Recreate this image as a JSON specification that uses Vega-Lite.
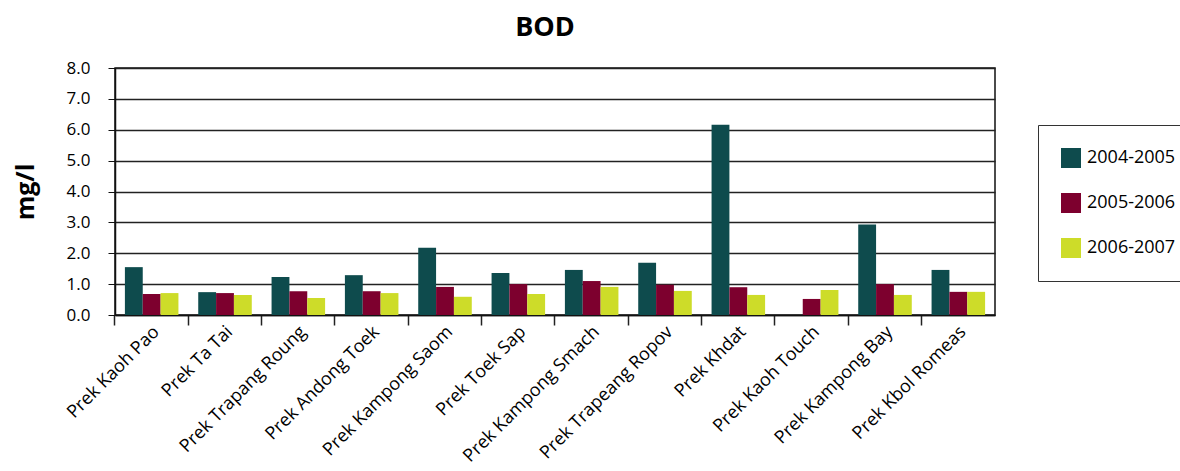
{
  "$schema": "https://vega.github.io/schema/vega-lite/v6.json",
  "autosize": {"type": "none"},
  "width": 880,
  "height": 247,
  "padding": {"left": 115, "top": 68, "right": 185, "bottom": 156},
  "background": "white",
  "config": {
    "font": "Open Sans",
    "view": {"stroke": "#111", "strokeWidth": 1.5}
  },
  "title": {"text": "BOD", "fontSize": 27, "fontWeight": "bold", "font": "Open Sans", "color": "#000", "offset": 17, "dx": -10},
  "data": {
    "values": [
      {"site": "Prek Kaoh Pao", "period": "2004-2005", "value": 1.55},
      {"site": "Prek Kaoh Pao", "period": "2005-2006", "value": 0.68},
      {"site": "Prek Kaoh Pao", "period": "2006-2007", "value": 0.71},
      {"site": "Prek Ta Tai", "period": "2004-2005", "value": 0.74},
      {"site": "Prek Ta Tai", "period": "2005-2006", "value": 0.71},
      {"site": "Prek Ta Tai", "period": "2006-2007", "value": 0.65},
      {"site": "Prek Trapang Roung", "period": "2004-2005", "value": 1.23},
      {"site": "Prek Trapang Roung", "period": "2005-2006", "value": 0.77},
      {"site": "Prek Trapang Roung", "period": "2006-2007", "value": 0.55},
      {"site": "Prek Andong Toek", "period": "2004-2005", "value": 1.29},
      {"site": "Prek Andong Toek", "period": "2005-2006", "value": 0.77},
      {"site": "Prek Andong Toek", "period": "2006-2007", "value": 0.71},
      {"site": "Prek Kampong Saom", "period": "2004-2005", "value": 2.18},
      {"site": "Prek Kampong Saom", "period": "2005-2006", "value": 0.91},
      {"site": "Prek Kampong Saom", "period": "2006-2007", "value": 0.59},
      {"site": "Prek Toek Sap", "period": "2004-2005", "value": 1.36},
      {"site": "Prek Toek Sap", "period": "2005-2006", "value": 1.0},
      {"site": "Prek Toek Sap", "period": "2006-2007", "value": 0.68},
      {"site": "Prek Kampong Smach", "period": "2004-2005", "value": 1.46},
      {"site": "Prek Kampong Smach", "period": "2005-2006", "value": 1.1},
      {"site": "Prek Kampong Smach", "period": "2006-2007", "value": 0.91},
      {"site": "Prek Trapeang Ropov", "period": "2004-2005", "value": 1.69},
      {"site": "Prek Trapeang Ropov", "period": "2005-2006", "value": 0.98},
      {"site": "Prek Trapeang Ropov", "period": "2006-2007", "value": 0.78},
      {"site": "Prek Khdat", "period": "2004-2005", "value": 6.16},
      {"site": "Prek Khdat", "period": "2005-2006", "value": 0.9},
      {"site": "Prek Khdat", "period": "2006-2007", "value": 0.65},
      {"site": "Prek Kaoh Touch", "period": "2005-2006", "value": 0.52},
      {"site": "Prek Kaoh Touch", "period": "2006-2007", "value": 0.81},
      {"site": "Prek Kampong Bay", "period": "2004-2005", "value": 2.93},
      {"site": "Prek Kampong Bay", "period": "2005-2006", "value": 1.0},
      {"site": "Prek Kampong Bay", "period": "2006-2007", "value": 0.65},
      {"site": "Prek Kbol Romeas", "period": "2004-2005", "value": 1.46},
      {"site": "Prek Kbol Romeas", "period": "2005-2006", "value": 0.75},
      {"site": "Prek Kbol Romeas", "period": "2006-2007", "value": 0.75}
    ]
  },
  "mark": {"type": "bar"},
  "encoding": {
    "x": {
      "field": "site",
      "type": "nominal",
      "sort": null,
      "scale": {"paddingInner": 0.27, "paddingOuter": 0.135},
      "axis": {
        "title": null,
        "bandPosition": -0.185,
        "labelOffset": 5,
        "labelAngle": -45,
        "labelAlign": "right",
        "labelBaseline": "middle",
        "labelFontSize": 18,
        "labelLimit": 400,
        "labelColor": "#000",
        "labelPadding": 4,
        "tickSize": 10,
        "tickColor": "#222",
        "tickWidth": 1.5,
        "domainColor": "#111",
        "domainWidth": 1.5,
        "grid": false
      }
    },
    "xOffset": {
      "field": "period",
      "type": "nominal",
      "scale": {"paddingInner": 0, "paddingOuter": 0}
    },
    "y": {
      "field": "value",
      "type": "quantitative",
      "scale": {"domain": [0, 8], "nice": false},
      "axis": {
        "title": "mg/l",
        "titleFontSize": 25,
        "titleFontWeight": "bold",
        "titleColor": "#000",
        "titlePadding": 28,
        "values": [0, 1, 2, 3, 4, 5, 6, 7, 8],
        "format": ".1f",
        "labelFontSize": 17,
        "labelColor": "#000",
        "labelPadding": 18,
        "tickSize": 7,
        "tickColor": "#111",
        "domainColor": "#111",
        "domainWidth": 1.5,
        "grid": true,
        "gridColor": "#222",
        "gridWidth": 1.5
      }
    },
    "color": {
      "field": "period",
      "type": "nominal",
      "scale": {
        "domain": ["2004-2005", "2005-2006", "2006-2007"],
        "range": ["#0e4b4d", "#7d002e", "#cddc29"]
      },
      "legend": {
        "title": null,
        "orient": "none",
        "legendX": 923,
        "legendY": 57,
        "symbolType": "square",
        "symbolSize": 400,
        "symbolStrokeWidth": 0,
        "labelFontSize": 18,
        "labelColor": "#000",
        "labelOffset": 6,
        "rowPadding": 25,
        "padding": 23,
        "strokeColor": "#333",
        "fillColor": "white",
        "cornerRadius": 0
      }
    }
  }
}
